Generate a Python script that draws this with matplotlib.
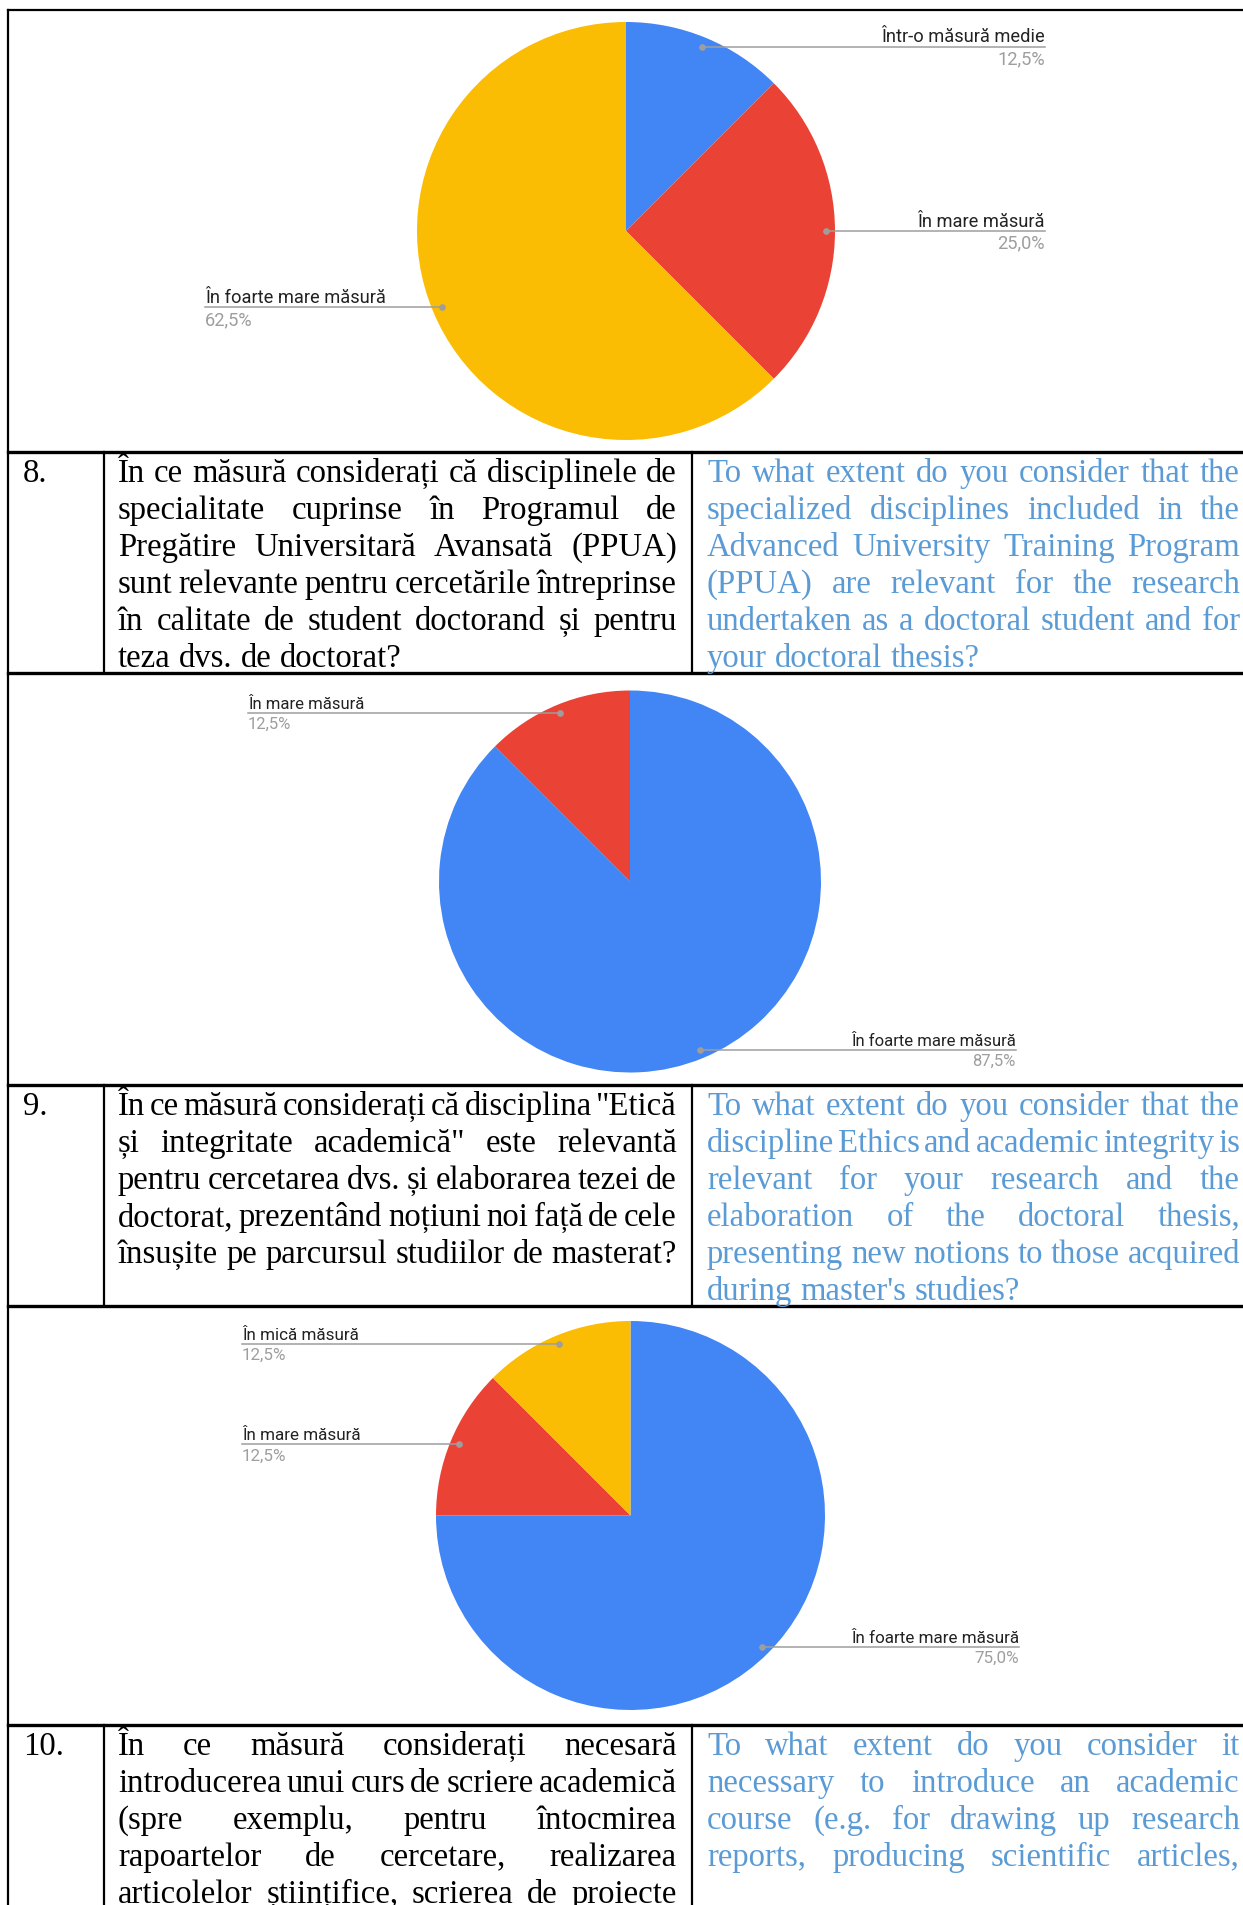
import matplotlib
matplotlib.use("Agg")
import matplotlib.pyplot as plt
import numpy as np

W, H = 1243, 1905
DPI = 100

# --- pie data (Google Forms answers) ---
pie1_labels = ["Într-o măsură medie", "În mare măsură", "În foarte mare măsură"]
pie1_values = [12.5, 25.0, 62.5]
pie1_colors = ["#4285F4", "#EA4335", "#FBBC04"]

pie2_labels = ["În foarte mare măsură", "În mare măsură"]
pie2_values = [87.5, 12.5]
pie2_colors = ["#4285F4", "#EA4335"]

pie3_labels = ["În foarte mare măsură", "În mare măsură", "În mică măsură"]
pie3_values = [75.0, 12.5, 12.5]
pie3_colors = ["#4285F4", "#EA4335", "#FBBC04"]

# --- table text ---
q_numbers = ["8.", "9.", "10."]

q8_ro = ["În ce măsură considerați că disciplinele de",
         "specialitate cuprinse în Programul de",
         "Pregătire Universitară Avansată (PPUA)",
         "sunt relevante pentru cercetările întreprinse",
         "în calitate de student doctorand și pentru",
         "teza dvs. de doctorat?"]
q8_en = ["To what extent do you consider that the",
         "specialized disciplines included in the",
         "Advanced University Training Program",
         "(PPUA) are relevant for the research",
         "undertaken as a doctoral student and for",
         "your doctoral thesis?"]

q9_ro = ["În ce măsură considerați că disciplina \"Etică",
         "și integritate academică\" este relevantă",
         "pentru cercetarea dvs. și elaborarea tezei de",
         "doctorat, prezentând noțiuni noi față de cele",
         "însușite pe parcursul studiilor de masterat?"]
q9_en = ["To what extent do you consider that the",
         "discipline Ethics and academic integrity is",
         "relevant for your research and the",
         "elaboration of the doctoral thesis,",
         "presenting new notions to those acquired",
         "during master's studies?"]

q10_ro = ["În ce măsură considerați necesară",
          "introducerea unui curs de scriere academică",
          "(spre exemplu, pentru întocmirea",
          "rapoartelor de cercetare, realizarea",
          "articolelor științifice, scrierea de proiecte"]
q10_en = ["To what extent do you consider it",
          "necessary to introduce an academic",
          "course (e.g. for drawing up research",
          "reports, producing scientific articles,"]

SERIF = "Liberation Serif"
SANS = "Roboto"
BLUE_TEXT = "#5B9BD5"
LINE_H = 37.0

fig = plt.figure(figsize=(W / DPI, H / DPI), dpi=DPI)
fig.patch.set_facecolor("white")
ov = fig.add_axes([0, 0, 1, 1], zorder=2)
ov.set_xlim(0, W)
ov.set_ylim(H, 0)
ov.axis("off")
ov.patch.set_alpha(0)
renderer = fig.canvas.get_renderer()


def measure(s, size, family):
    t = ov.text(0, 0, s, fontsize=size, family=family)
    w = t.get_window_extent(renderer=renderer).width
    t.remove()
    return w


# fit font sizes to widths
ref_lines = [q9_ro[-1], q8_ro[-1], q8_en[-1], q9_en[-1]]
ref_widths = [545, 310, 265, 305]
FS = 22 * sum(ref_widths) / sum(measure(s, 22, SERIF) for s in ref_lines)
LFS = 11 * 164 / measure("În foarte mare măsură", 11, SANS)


def draw_lines(lines, x0, x1, y0, color, justify_last=False):
    space = measure("n n", FS, SERIF) - 2 * measure("n", FS, SERIF)
    for i, line in enumerate(lines):
        words = line.split(" ")
        widths = [measure(w, FS, SERIF) for w in words]
        y = y0 + i * LINE_H
        last = i == len(lines) - 1
        if len(words) > 1 and (not last or justify_last):
            gap = max((x1 - x0 - sum(widths)) / (len(words) - 1), space * 0.5)
        else:
            gap = space
        x = x0
        for w, wd in zip(words, widths):
            ov.text(x, y, w, fontsize=FS, family=SERIF, color=color,
                    ha="left", va="baseline")
            x += wd + gap


def draw_pie(values, labels, colors, cx, cy, r, left_x, right_x):
    ax = fig.add_axes([(cx - r) / W, 1 - (cy + r) / H, 2 * r / W, 2 * r / H], zorder=1)
    wedges, _ = ax.pie(values, colors=colors, startangle=90, counterclock=False,
                       radius=1, wedgeprops=dict(linewidth=0))
    ax.set_xlim(-1, 1)
    ax.set_ylim(-1, 1)
    ax.set_aspect("auto")
    ax.axis("off")
    k = r / 191.0  # chart images were pasted at slightly different scales
    fs = LFS * k
    inv = ov.transData.inverted()
    for w, lab, val in zip(wedges, labels, values):
        mid = np.deg2rad((w.theta1 + w.theta2) / 2)
        px, py = inv.transform(ax.transData.transform((0.955 * np.cos(mid), 0.955 * np.sin(mid))))
        pct = f"{val:.1f}%".replace(".", ",")
        if np.cos(mid) > 0:
            ov.plot([px, right_x], [py, py], color="#9E9E9E", lw=1.1)
            tx, ha = right_x, "right"
        else:
            ov.plot([left_x, px], [py, py], color="#9E9E9E", lw=1.1)
            tx, ha = left_x, "left"
        ov.plot(px, py, "o", ms=3.8, color="#9E9E9E")
        ov.text(tx, py - 4 * k, lab, fontsize=fs, family=SANS, color="#222222",
                ha=ha, va="baseline")
        ov.text(tx, py + 16 * k, pct, fontsize=fs, family=SANS, color="#9E9E9E",
                ha=ha, va="baseline")


# pies
draw_pie(pie1_values, pie1_labels, pie1_colors, 626, 231, 209, 205, 1045)
draw_pie(pie2_values, pie2_labels, pie2_colors, 630, 881.5, 191, 248, 1016)
draw_pie(pie3_values, pie3_labels, pie3_colors, 630.5, 1515.5, 194.5, 242, 1019)

# table grid
LEFT, DIV1, DIV2 = 8, 104, 692
rows = [(452, 673), (1085, 1306), (1725, H)]
ov.plot([LEFT, W], [10, 10], color="black", lw=1.6)
ov.plot([LEFT, LEFT], [10, H], color="black", lw=1.6)
for top, bottom in rows:
    ov.plot([LEFT, W], [top, top], color="black", lw=2.4)
    if bottom < H:
        ov.plot([LEFT, W], [bottom, bottom], color="black", lw=2.4)
    for x in (DIV1, DIV2):
        ov.plot([x, x], [top, bottom], color="black", lw=1.6)

# table text
for (top, bottom), num, ro, en in zip(rows, q_numbers, [q8_ro, q9_ro, q10_ro], [q8_en, q9_en, q10_en]):
    y0 = top + 30
    ov.text(23, y0, num, fontsize=FS, family=SERIF, color="black", ha="left", va="baseline")
    cont = bottom >= H
    draw_lines(ro, 118, 677, y0, "black", justify_last=cont)
    draw_lines(en, 707, 1240, y0, BLUE_TEXT, justify_last=cont)

fig.savefig("out.png", dpi=DPI, facecolor="white")
